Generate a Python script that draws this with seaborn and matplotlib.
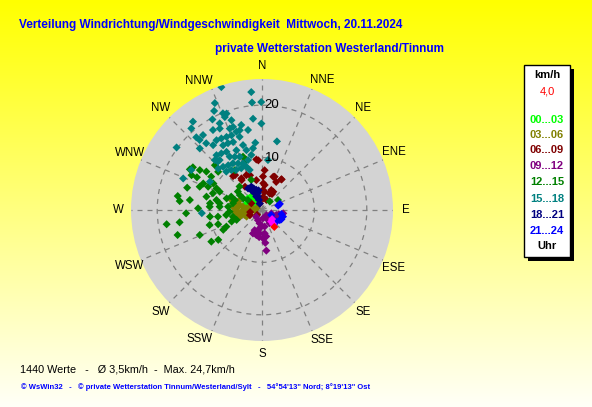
import numpy as np
import pandas as pd
import seaborn as sns
import matplotlib.pyplot as plt
from matplotlib.patches import Rectangle

# wind direction (deg from north, clockwise) and speed (km/h) per 3h slot
dir_00_03 = [309.8, 321.3, 327.8, 304, 312.8, 330.5, 293, 295, 311.4, 331.4, 329, 318, 300, 335]
spd_00_03 = [3.5, 3.3, 2.6, 2.8, 2.3, 2.2, 3.2, 2.2, 1.4, 1.6, 3.3, 2.9, 2.5, 2.0]

dir_03_06 = [276.6, 273.7, 282.6, 280, 276, 285, 279.5, 266, 260.8, 253.9, 263.2, 261, 270,
             284.6, 253.4, 246.9, 286, 247.9, 266.5, 287.7, 290, 272, 258]
spd_03_06 = [5.6, 4.9, 4.4, 3.7, 3.0, 2.4, 1.7, 4.6, 4.0, 3.4, 2.7, 2.1, 1.4,
             5.1, 4.4, 3.2, 1.1, 2.5, 5.2, 6.0, 4.8, 3.5, 5.0]

dir_06_09 = [353.6, 3.8, 1.7, 20.8, 32.2, 26.8, 335.9, 326.9, 319.5, 349.3, 6.1, 8.3, 4.9, 24.7,
             25, 341.2, 340.7, 302, 355.8, 18.7, 32.7, 2.8, 5, 3, 25.6, 31.7, 325.9, 323.9,
             341, 322.4, 247, 32, 225, 260, 23.4]
spd_06_09 = [9.7, 7.6, 6.4, 6.8, 6.9, 6.0, 7.3, 7.2, 8.5, 5.8, 4.8, 3.5, 2.2, 3.5,
             4.2, 3.4, 1.3, 2.4, 9.5, 6.7, 6.95, 5.1, 2.5, 3.8, 3.5, 4.1, 6.9, 5.5,
             7.0, 8.4, 2.5, 3.6, 1.3, 2.3, 2.1]

dir_09_12 = [174.2, 173.9, 178, 173.5, 192.8, 201.1, 191.3, 182.3, 189.9, 201.8, 220.4, 173,
             139, 109.7, 109.2, 107.2, 99, 117.8, 121.2, 149, 150, 200.1, 185.7, 170.9,
             170.8, 195, 186, 112, 104]
spd_09_12 = [6.3, 7.8, 5.4, 4.5, 4.9, 4.8, 3.9, 3.2, 2.6, 2.1, 1.7, 1.6,
             1.3, 1.9, 2.9, 3.9, 4.1, 3.8, 2.5, 2.2, 2.9, 4.1, 4.5, 3.2,
             5.1, 4.3, 5.2, 3.4, 3.3]

dir_12_15 = [299.4, 301.7, 302.7, 296.3, 296.7, 304.6, 303.3, 311.1, 286.6, 279.4, 277.9,
             276.2, 290.5, 294.3, 293.4, 298.6, 295.4, 293.4, 283.5, 288.8, 282.4, 277.3,
             279, 288.1, 293.5, 290.1, 307.4, 261.5, 253.5, 261.5, 267.5, 248.1, 271.5,
             273.6, 262.7, 274.5, 261.4, 262, 267, 257, 248.7, 254, 252, 242.9, 245, 249.2,
             238, 235.7, 275.6, 283, 303.9, 301.6, 305.5, 58, 42.6, 313.6, 340.4, 342.6,
             325.7, 340.4, 316.3]
spd_12_15 = [15.8, 15.5, 14.1, 15.0, 13.9, 12.9, 11.6, 11.1, 14.9, 16.3, 13.9,
             15.8, 12.7, 12.3, 11.2, 10.6, 9.6, 8.8, 10.9, 9.9, 8.9, 10.0,
             8.2, 7.1, 6.4, 5.5, 5.8, 18.4, 16.8, 15.9, 14.5, 12.8, 12.2,
             10.0, 10.0, 8.1, 8.5, 6.9, 6.2, 5.7, 5.2, 10.4, 8.8, 8.3, 7.5, 6.2,
             11.4, 10.1, 6.5, 5.7, 5.1, 4.2, 3.3, 3.6, 2.2, 12.4, 10.8, 10.0,
             9.2, 6.1, 6.2]

dir_15_18 = [341.7, 354.8, 354.7, 359.6, 336.2, 334.2, 338, 339.8, 331.3, 354.4, 359.6, 322,
             319.1, 306.2, 12.3, 344.4, 350.1, 354.3, 6.8, 317.9, 318.3, 321.8, 320.1,
             314.7, 299.5, 317.7, 291.8, 267, 298.6,
             328.5, 332.6, 338.4, 341.9, 343, 334.1, 326.9, 323, 329, 337, 343.7, 345.4,
             336.8, 328.6, 320.3, 319.7, 328.8, 337.3, 344.4, 332.8, 322.9, 313.4, 322.5,
             333.6, 342.9, 349, 341.2, 346.3, 334, 338.2, 340.8, 330.4, 337.8, 333, 324.3,
             332.9, 337.8, 328.1, 318, 340.1, 316.6, 351.7, 327.3, 317.1]
spd_15_18 = [24.7, 22.6, 20.6, 20.6, 22.3, 21.0, 19.9, 19.6, 19.7, 17.5, 16.5, 21.4,
             20.6, 20.2, 13.4, 15.8, 15.5, 12.9, 9.6, 18.7, 17.9, 18.2, 16.6,
             16.7, 15.5, 12.5, 16.2, 11.5, 11.3,
             17.9, 17.5, 16.7, 15.7, 14.6, 15.5, 15.9, 15.5, 14.4, 14.1, 12.9, 11.8,
             12.4, 13.0, 13.6, 12.5, 11.9, 11.0, 9.9, 10.0, 10.7, 11.5, 9.6,
             8.9, 8.0, 10.7, 18.1, 16.7, 18.4, 19.1, 16.8, 15.7, 15.4, 14.3, 13.3,
             11.4, 9.6, 10.5, 11.1, 8.8, 13.1, 11.9, 9.1, 10.0]

dir_18_21 = [335.4, 338.9, 344.2, 346.5, 336.3, 343.3, 343.3, 337, 340.7, 327.1, 350, 332]
spd_18_21 = [4.9, 4.4, 4.0, 3.3, 3.5, 2.7, 2.0, 2.8, 1.3, 4.9, 3.8, 4.2]

dir_21_24 = [71.2, 74.8, 101.7, 107.6, 119.5, 129.1, 130.3, 115.8, 136.5, 118.2]
spd_21_24 = [3.6, 3.2, 3.8, 4.2, 3.9, 3.5, 2.8, 4.1, 3.5, 2.0]

dir_last = [141.3, 141.8, 132]
spd_last = [2.8, 3.4, 2.6]
dir_now = [144]
spd_now = [4.0]

slot_labels = ['00...03', '03...06', '06...09', '09...12', '12...15', '15...18', '18...21', '21...24']
slot_colors = ['#00ff00', '#808000', '#800000', '#800080', '#008000', '#008080', '#000080', '#0000ff']
compass = ['N', 'NNE', 'NE', 'ENE', 'E', 'ESE', 'SE', 'SSE',
           'S', 'SSW', 'SW', 'WSW', 'W', 'WNW', 'NW', 'NNW']
# where the station software puts its compass labels (deg)
compass_pos = [0, 24.7, 45, 66.3, 90, 113.7, 135, 155.3,
               180, 205.7, 225, 247.2, 270, 293.6, 315, 334]

dirs = [dir_00_03, dir_03_06, dir_06_09, dir_09_12, dir_12_15, dir_15_18, dir_18_21, dir_21_24,
        dir_last, dir_now]
spds = [spd_00_03, spd_03_06, spd_06_09, spd_09_12, spd_12_15, spd_15_18, spd_18_21, spd_21_24,
        spd_last, spd_now]
groups = slot_labels + ['last', 'now']
colors = dict(zip(groups, slot_colors + ['#ff00ff', '#ff0000']))

frames = []
for g, d, s in zip(groups, dirs, spds):
    frames.append(pd.DataFrame({'dir': d, 'speed': s, 'slot': g}))
df = pd.concat(frames, ignore_index=True)
df['theta'] = np.deg2rad(df['dir'])

W, H = 592, 407
fig = plt.figure(figsize=(W / 100, H / 100), dpi=100)

# yellow gradient background
bg = fig.add_axes([0, 0, 1, 1])
grad = np.linspace(0, 1, 256).reshape(-1, 1)
top = np.array([1.0, 1.0, 0.0])
bot = np.array([1.0, 1.0, 0.97])
img = top + (bot - top) * grad[..., None]
bg.imshow(img, aspect='auto', extent=[0, 1, 0, 1])
bg.set_axis_off()

def px(x, y):
    return x / W, 1 - y / H

# polar plot
cx, cy, R = 262, 210, 131
ax = fig.add_axes([(cx - R) / W, (H - cy - R) / H, 2 * R / W, 2 * R / H], projection='polar')
ax.set_theta_zero_location('N')
ax.set_theta_direction(-1)
ax.set_facecolor('#d3d3d3')
ax.spines['polar'].set_visible(False)
ax.set_axisbelow(True)

sns.scatterplot(data=df, x='theta', y='speed', hue='slot', hue_order=groups, palette=colors,
                marker='D', s=17, linewidth=0, legend=False, ax=ax)
ax.set_xlabel('')
ax.set_ylabel('')
ax.set_ylim(0, 25)
ax.set_xticks(np.deg2rad(np.arange(0, 360, 22.5)))
ax.set_xticklabels([])
ax.set_yticks([10, 20])
ax.set_yticklabels([])
ax.grid(True, color='#808080', linestyle=(0, (4, 4)), linewidth=0.9)

for lab, a in zip(compass, compass_pos):
    ax.text(np.deg2rad(a), 27.4, lab, ha='center', va='center', fontsize=8.3,
            family='Liberation Sans')
for r in [10, 20]:
    ax.annotate(str(r), xy=(0, r), xytext=(2, 0), textcoords='offset points',
                ha='left', va='center', fontsize=9.5, family='Liberation Sans')

# titles
fig.text(*px(19, 25), 'Verteilung Windrichtung/Windgeschwindigkeit  Mittwoch, 20.11.2024',
         color='#0000ff', fontsize=8.5, fontweight='bold', va='center', ha='left',
         family='Liberation Sans')
fig.text(*px(215, 49), 'private Wetterstation Westerland/Tinnum',
         color='#0000ff', fontsize=8.5, fontweight='bold', va='center', ha='left',
         family='Liberation Sans')

# legend box
bx, by, bw, bh = 524, 65, 46, 192
fig.patches.append(Rectangle(px(bx + 4, by + bh + 4), bw / W, bh / H, transform=fig.transFigure,
                             facecolor='black', edgecolor='none'))
fig.patches.append(Rectangle(px(bx, by + bh), bw / W, bh / H, transform=fig.transFigure,
                             facecolor='white', edgecolor='black', linewidth=1))
fig.text(*px(547, 75), 'km/h', ha='center', va='center', fontsize=8, fontweight='bold',
         family='Liberation Sans')
fig.text(*px(547, 92), '4,0', ha='center', va='center', fontsize=8, color='#ff0000',
         family='Liberation Sans')
leg_y = [120, 135, 150, 166, 182, 199, 215, 231]
for lab, col, y in zip(slot_labels, slot_colors, leg_y):
    fig.text(*px(547, y), lab, ha='center', va='center', fontsize=8, fontweight='bold',
             color=col, family='Liberation Sans')
fig.text(*px(547, 246), 'Uhr', ha='center', va='center', fontsize=8, fontweight='bold',
         family='Liberation Sans')

# footer
fig.text(*px(20, 370), '1440 Werte   -   \u00d8 3,5km/h  -  Max. 24,7km/h', ha='left', va='center',
         fontsize=7.8, family='Liberation Sans')
fig.text(*px(21, 387), '\u00a9 WsWin32   -   \u00a9 private Wetterstation Tinnum/Westerland/Sylt   -   '
         '54\u00b054\'13" Nord; 8\u00b019\'13" Ost', ha='left', va='center', fontsize=5.5,
         fontweight='bold', color='#0000ff', family='Liberation Sans')

fig.savefig('out.png', dpi=100)
